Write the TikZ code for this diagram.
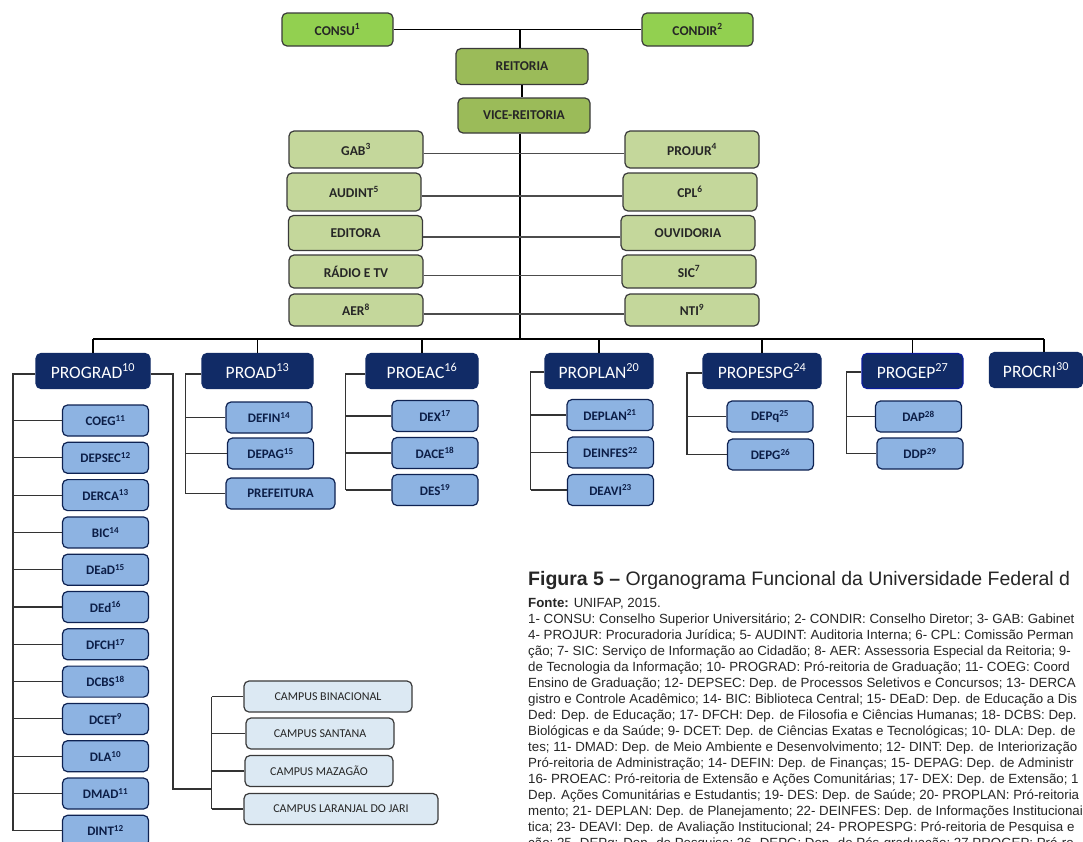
\documentclass[tikz,border=0pt]{standalone}
\usepackage{fontspec}
\setmainfont{Carlito}
\newfontfamily\arialfont{Liberation Sans}
\usetikzlibrary{calc}
\definecolor{councilgreen}{HTML}{92D050}
\definecolor{rectorgreen}{HTML}{9BBB59}
\definecolor{staffgreen}{HTML}{C4D79B}
\definecolor{pronavy}{HTML}{112B66}
\definecolor{deptblue}{HTML}{8DB3E2}
\definecolor{campusblue}{HTML}{DCE9F3}
\definecolor{boxedge}{HTML}{3A3A3A}
\definecolor{boxtext}{HTML}{262626}
\tikzset{
  orgbox/.style={draw=boxedge, rounded corners=5pt, line width=1.2pt, inner sep=0pt, align=center},
  councilbox/.style={orgbox, fill=councilgreen, minimum width=111pt, minimum height=33pt,
    text=boxtext, font=\fontsize{13.5}{15}\selectfont\bfseries},
  rectorbox/.style={orgbox, fill=rectorgreen, minimum width=132pt, minimum height=36pt,
    text=boxtext, font=\fontsize{13.5}{15}\selectfont\bfseries},
  staffbox/.style={orgbox, fill=staffgreen, minimum width=134pt, minimum height=35pt,
    text=boxtext, font=\fontsize{13.5}{15}\selectfont\bfseries},
  probox/.style={orgbox, draw=pronavy, fill=pronavy, minimum height=35pt,
    text=white, font=\fontsize{17.5}{20}\selectfont},
  deptbox/.style={orgbox, draw=pronavy!80!black, fill=deptblue, minimum width=86pt, minimum height=31pt,
    text=pronavy!70!black, font=\fontsize{13}{15}\selectfont\bfseries},
  campusbox/.style={orgbox, fill=campusblue, minimum height=31pt,
    text=boxtext, font=\fontsize{12}{14}\selectfont},
  mainlink/.style={line width=1.6pt, black},
  sidelink/.style={line width=1.1pt, black!70},
  branchlink/.style={line width=1.1pt, black!80},
  legendline/.style={anchor=base west, inner sep=0pt, text=black!85,
    font=\arialfont\fontsize{13.3}{16}\selectfont}
}

\begin{document}
\begin{tikzpicture}[x=1pt, y=-1pt]
    \useasboundingbox (0,0) rectangle (1083,841);
    \clip (0,0) rectangle (1083,841);
    \fill[white] (0,0) rectangle (1083,841);
    % Councils and rectorate
    \node[councilbox] (consu) at (337.5,29.5) {CONSU\textsuperscript{1}};
    \node[councilbox] (condir) at (697.5,29.5) {CONDIR\textsuperscript{2}};
    \node[rectorbox] (reitoria) at (522,66.5) {REITORIA};
    \node[rectorbox, minimum height=35pt] (vice) at (524,115.5) {VICE-REITORIA};
    % Staff units on both sides of the trunk
    \node[staffbox, minimum height=37pt] (gab) at (356,149.5) {GAB\textsuperscript{3}};
    \node[staffbox, minimum height=38pt] (audint) at (354,192) {AUDINT\textsuperscript{5}};
    \node[staffbox] (editora) at (355.5,233) {EDITORA};
    \node[staffbox, minimum height=33pt] (radiotv) at (356,271.5) {RÁDIO E TV};
    \node[staffbox, minimum height=32pt] (aer) at (356,310) {AER\textsuperscript{8}};
    \node[staffbox, minimum height=37pt] (projur) at (692,149.5) {PROJUR\textsuperscript{4}};
    \node[staffbox, minimum height=38pt] (cpl) at (690,192) {CPL\textsuperscript{6}};
    \node[staffbox] (ouvidoria) at (688,233) {OUVIDORIA};
    \node[staffbox, minimum height=33pt] (sic) at (689,271.5) {SIC\textsuperscript{7}};
    \node[staffbox, minimum height=32pt] (nti) at (692,310) {NTI\textsuperscript{9}};
    % Trunk and bus
    \coordinate (trunk) at (520,0);
    \coordinate (bus) at (0,339);
    \draw[mainlink] (consu.east) -- (condir.west);
    \draw[mainlink] (trunk |- consu.east) -- (trunk |- reitoria.north);
    \draw[mainlink] ([xshift=2pt]trunk |- reitoria.south) -- ([xshift=2pt]trunk |- vice.north);
    \draw[mainlink] (trunk |- vice.south) -- (trunk |- bus);
    \foreach \name in {gab,audint,editora,radiotv,aer} {
        \draw[sidelink] ($(\name.east)+(0,4)$) -- ($(trunk |- \name.east)+(0,4)$);
    }
    \foreach \name in {projur,cpl,ouvidoria,sic,nti} {
        \draw[sidelink] ($(\name.west)+(0,4)$) -- ($(trunk |- \name.west)+(0,4)$);
    }
    % Pro-rectorates
    \node[probox, minimum width=114pt] (prograd) at (93,371) {PROGRAD\textsuperscript{10}};
    \node[probox, minimum width=111pt] (proad) at (257.5,371) {PROAD\textsuperscript{13}};
    \node[probox, minimum width=112pt] (proeac) at (422,371) {PROEAC\textsuperscript{16}};
    \node[probox, minimum width=108pt] (proplan) at (599,371) {PROPLAN\textsuperscript{20}};
    \node[probox, minimum width=118pt] (propespg) at (762,371) {PROPESPG\textsuperscript{24}};
    \node[probox, minimum width=101pt, draw=blue!35!pronavy] (progep) at (912.5,371) {PROGEP\textsuperscript{27}};
    \node[probox, minimum width=93pt] (procri) at (1036,370) {PROCRI\textsuperscript{30}};
    \draw[mainlink] (prograd.north |- bus) -- ([xshift=8pt]procri.north |- bus);
    \foreach \name in {prograd,proad,proeac,proplan,propespg,progep} {
        \draw[mainlink] (\name.north |- bus) -- (\name.north);
    }
    \draw[mainlink] ([xshift=8pt]procri.north |- bus) -- ([xshift=8pt]procri.north);
    % PROGRAD departments
    \foreach \name/\label [count=\k from 0] in {coeg/COEG\textsuperscript{11}, depsec/DEPSEC\textsuperscript{12},
        derca/DERCA\textsuperscript{13}, bic/BIC\textsuperscript{14}, dead/DEaD\textsuperscript{15},
        ded/DEd\textsuperscript{16}, dfch/DFCH\textsuperscript{17}, dcbs/DCBS\textsuperscript{18},
        dcet/DCET\textsuperscript{9}, dla/DLA\textsuperscript{10}, dmad/DMAD\textsuperscript{11},
        dint/DINT\textsuperscript{12}} {
        \node[deptbox] (\name) at (105.5,{420.5+37.3*\k}) {\label};
    }
    \coordinate (gradrail) at (13,0);
    \draw[branchlink] ($(prograd.west)+(0,3)$) -- ($(gradrail |- prograd.west)+(0,3)$) -- (gradrail |- dint.west);
    \foreach \name in {coeg,depsec,derca,bic,dead,ded,dfch,dcbs,dcet,dla,dmad,dint} {
        \draw[branchlink] (\name.west) -- (gradrail |- \name.west);
    }
    % Campuses
    \node[campusbox, minimum width=168pt] (binacional) at (328,696.5) {CAMPUS BINACIONAL};
    \node[campusbox, minimum width=148pt] (santana) at (320,733.5) {CAMPUS SANTANA};
    \node[campusbox, minimum width=148pt] (mazagao) at (319,771) {CAMPUS MAZAGÃO};
    \node[campusbox, minimum width=194pt] (laranjal) at (341,809) {CAMPUS LARANJAL DO JARI};
    \coordinate (camprail) at (211.7,0);
    \coordinate (campjoin) at (173,789);
    \draw[branchlink] ($(prograd.east)+(0,3)$) -| (campjoin) -- (camprail |- campjoin);
    \draw[branchlink] (camprail |- binacional.west) -- (camprail |- laranjal.west);
    \foreach \name in {binacional,santana,mazagao,laranjal} {
        \draw[branchlink] (\name.west) -- (camprail |- \name.west);
    }
    % PROAD departments
    \node[deptbox] (defin) at (269,417.5) {DEFIN\textsuperscript{14}};
    \node[deptbox] (depag) at (270.5,453.5) {DEPAG\textsuperscript{15}};
    \node[deptbox, minimum width=109pt] (prefeitura) at (280.5,493.5) {PREFEITURA};
    \coordinate (adrail) at (185.7,0);
    \draw[branchlink] ($(proad.west)+(0,3)$) -- ($(adrail |- proad.west)+(0,3)$) -- (adrail |- prefeitura.west);
    \foreach \name in {defin,depag,prefeitura} {
        \draw[branchlink] (\name.west) -- (adrail |- \name.west);
    }
    % PROEAC departments
    \node[deptbox] (dex) at (435,416) {DEX\textsuperscript{17}};
    \node[deptbox] (dace) at (435,453) {DACE\textsuperscript{18}};
    \node[deptbox] (des) at (435,490) {DES\textsuperscript{19}};
    \coordinate (eacrail) at (345.7,0);
    \draw[branchlink] ($(proeac.west)+(0,3)$) -- ($(eacrail |- proeac.west)+(0,3)$) -- (eacrail |- des.west);
    \foreach \name in {dex,dace,des} {
        \draw[branchlink] (\name.west) -- (eacrail |- \name.west);
    }
    % PROPLAN departments
    \node[deptbox] (deplan) at (610,415) {DEPLAN\textsuperscript{21}};
    \node[deptbox] (deinfes) at (610.5,452.5) {DEINFES\textsuperscript{22}};
    \node[deptbox] (deavi) at (610.5,490) {DEAVI\textsuperscript{23}};
    \coordinate (planrail) at (530.7,0);
    \draw[branchlink] ($(proplan.west)+(0,1)$) -- ($(planrail |- proplan.west)+(0,1)$) -- (planrail |- deavi.west);
    \foreach \name in {deplan,deinfes,deavi} {
        \draw[branchlink] (\name.west) -- (planrail |- \name.west);
    }
    % PROPESPG departments
    \node[deptbox] (depq) at (770,416.5) {DEPq\textsuperscript{25}};
    \node[deptbox] (depg) at (770.5,454.5) {DEPG\textsuperscript{26}};
    \coordinate (pesqrail) at (687,0);
    \draw[branchlink] ($(propespg.west)+(0,2)$) -- ($(pesqrail |- propespg.west)+(0,2)$) -- (pesqrail |- depg.west);
    \foreach \name in {depq,depg} {
        \draw[branchlink] (\name.west) -- (pesqrail |- \name.west);
    }
    % PROGEP departments
    \node[deptbox] (dap) at (918.5,416.5) {DAP\textsuperscript{28}};
    \node[deptbox] (ddp) at (920,453.5) {DDP\textsuperscript{29}};
    \coordinate (geprail) at (846.7,0);
    \draw[branchlink] ($(progep.west)+(0,1)$) -- ($(geprail |- progep.west)+(0,1)$) -- (geprail |- ddp.west);
    \foreach \name in {dap,ddp} {
        \draw[branchlink] (\name.west) -- (geprail |- \name.west);
    }
    % Figure caption and legend
    \node[legendline, font=\arialfont\fontsize{19.5}{22}\selectfont] (figcaption) at (528,585)
        {\textbf{Figura 5 –} Organograma Funcional da Universidade Federal d};
    \node[legendline] (fonte) at (528,607) {\textbf{Fonte:} UNIFAP, 2015.};
    \foreach \txt [count=\k] in {
        {1- CONSU: Conselho Superior Universitário; 2- CONDIR: Conselho Diretor; 3- GAB: Gabinet},
        {4- PROJUR: Procuradoria Jurídica; 5- AUDINT: Auditoria Interna; 6- CPL: Comissão Perman},
        {ção; 7- SIC: Serviço de Informação ao Cidadão; 8- AER: Assessoria Especial da Reitoria; 9-},
        {de Tecnologia da Informação; 10- PROGRAD: Pró-reitoria de Graduação; 11- COEG: Coord},
        {Ensino de Graduação; 12- DEPSEC: Dep. de Processos Seletivos e Concursos; 13- DERCA},
        {gistro e Controle Acadêmico; 14- BIC: Biblioteca Central; 15- DEaD: Dep. de Educação a Dis},
        {Ded: Dep. de Educação; 17- DFCH: Dep. de Filosofia e Ciências Humanas; 18- DCBS: Dep.},
        {Biológicas e da Saúde; 9- DCET: Dep. de Ciências Exatas e Tecnológicas; 10- DLA: Dep. de},
        {tes; 11- DMAD: Dep. de Meio Ambiente e Desenvolvimento; 12- DINT: Dep. de Interiorização},
        {Pró-reitoria de Administração; 14- DEFIN: Dep. de Finanças; 15- DEPAG: Dep. de Administr},
        {16- PROEAC: Pró-reitoria de Extensão e Ações Comunitárias; 17- DEX: Dep. de Extensão; 1},
        {Dep. Ações Comunitárias e Estudantis; 19- DES: Dep. de Saúde; 20- PROPLAN: Pró-reitoria},
        {mento; 21- DEPLAN: Dep. de Planejamento; 22- DEINFES: Dep. de Informações Institucionai},
        {tica; 23- DEAVI: Dep. de Avaliação Institucional; 24- PROPESPG: Pró-reitoria de Pesquisa e},
        {ção; 25- DEPq: Dep. de Pesquisa; 26- DEPG: Dep. de Pós-graduação; 27 PROGEP: Pró-re}} {
        \node[legendline] (legend\k) at (528,{607+16*\k}) {\txt};
    }
\end{tikzpicture}
\end{document}
